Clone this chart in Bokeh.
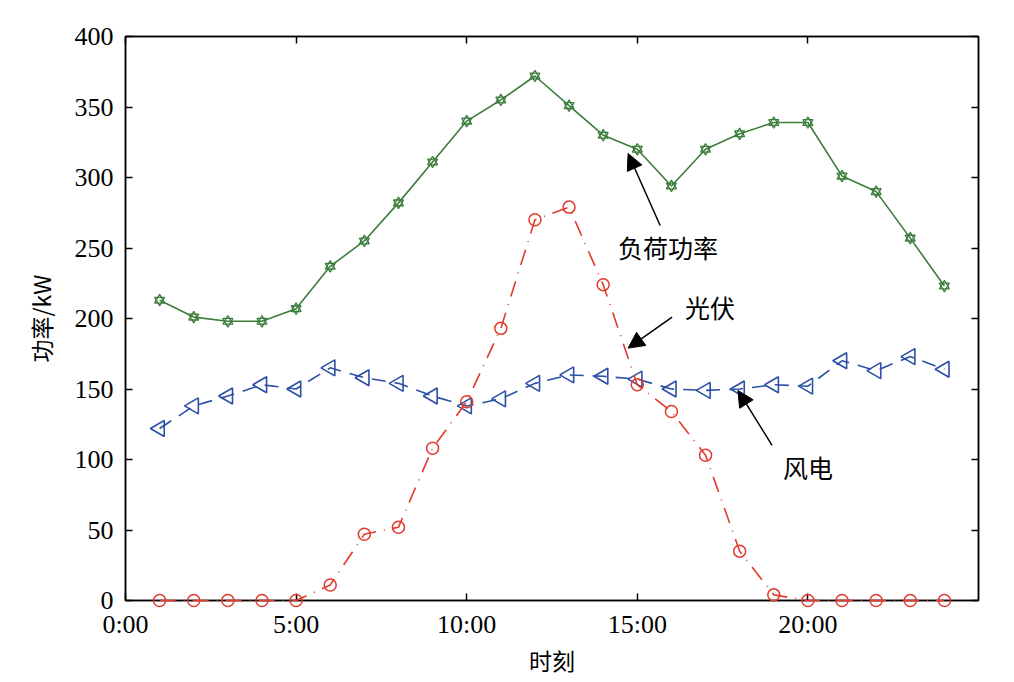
import numpy as np
from bokeh.plotting import figure
from bokeh.models import (LinearAxis, FixedTicker, Range1d, Arrow, NormalHead, Label)
from bokeh.embed import file_html
from bokeh.resources import INLINE

hours = list(range(1, 25))
load = [213, 201, 198, 198, 207, 237, 255, 282, 311, 340, 355, 372,
        351, 330, 320, 294, 320, 331, 339, 339, 301, 290, 257, 223]
wind = [122, 138, 145, 153, 150, 165, 158, 154, 145, 138, 143, 154,
        160, 159, 157, 150, 149, 150, 153, 152, 170, 163, 173, 164]
pv = [0, 0, 0, 0, 0, 11, 47, 52, 108, 141, 193, 270,
      279, 224, 153, 134, 103, 35, 4, 0, 0, 0, 0, 0]

x_ticks = [0, 5, 10, 15, 20]
x_tick_labels = ["0:00", "5:00", "10:00", "15:00", "20:00"]
y_ticks = [0, 50, 100, 150, 200, 250, 300, 350, 400]

# annotation anchors (data units)
ann_load = dict(text="负荷功率", head=(14.73, 317), tail=(15.67, 266), pos=(15.9, 251))
ann_pv = dict(text="光伏", head=(14.73, 179), tail=(16.02, 201), pos=(17.13, 208))
ann_wind = dict(text="风电", head=(17.95, 149), tail=(18.95, 110), pos=(20.0, 95))

SERIF = "Liberation Serif"
CJK = "Noto Sans CJK SC"
GREEN = "#3b7d3b"
BLUE = "#2b50a5"
RED = "#e23a2c"

p = figure(width=1000, height=680, output_backend="svg", toolbar_location=None,
           x_range=Range1d(0, 25), y_range=Range1d(0, 400),
           min_border_left=125, min_border_right=22, min_border_top=36,
           min_border_bottom=80)
p.xgrid.visible = False
p.ygrid.visible = False
p.outline_line_color = "black"
p.outline_line_width = 1.5
p.background_fill_color = "white"
p.border_fill_color = "white"


def style_axis(ax, ticks, show_labels, overrides=None):
    ax.ticker = FixedTicker(ticks=ticks)
    ax.major_tick_in = 7
    ax.major_tick_out = 0
    ax.minor_tick_in = 0
    ax.minor_tick_out = 0
    ax.axis_line_color = "black"
    ax.axis_line_width = 1.5
    ax.major_tick_line_width = 1.5
    ax.major_tick_line_color = "black"
    if show_labels:
        if overrides:
            ax.major_label_overrides = overrides
        ax.major_label_text_font = SERIF
        ax.major_label_text_font_size = "26px"
        ax.major_label_text_color = "black"
        ax.major_label_standoff = 12
    else:
        ax.major_label_overrides = {t: "" for t in ticks}
        ax.major_label_standoff = 0


style_axis(p.xaxis[0], x_ticks, True, {t: l for t, l in zip(x_ticks, x_tick_labels)})
style_axis(p.yaxis[0], y_ticks, True)
p.xaxis[0].major_label_standoff = 9
p.xaxis[0].axis_label = "时刻"
p.yaxis[0].axis_label = "功率/kW"
for ax in (p.xaxis[0], p.yaxis[0]):
    ax.axis_label_text_font = CJK
    ax.axis_label_text_font_size = "23px"
    ax.axis_label_text_font_style = "normal"
    ax.axis_label_text_color = "black"
p.xaxis[0].axis_label_standoff = 1
p.yaxis[0].axis_label_standoff = 14

top = LinearAxis()
style_axis(top, x_ticks, False)
p.add_layout(top, "above")
right = LinearAxis()
style_axis(right, y_ticks, False)
p.add_layout(right, "right")

# load
p.line(hours, load, line_color=GREEN, line_width=1.6)
p.scatter(hours, load, marker="triangle", size=10, line_color=GREEN, fill_color=None, line_width=1.3)
p.scatter(hours, load, marker="inverted_triangle", size=10, line_color=GREEN, fill_color=None, line_width=1.3)

# wind
p.line(hours, wind, line_color=BLUE, line_width=1.6, line_dash="14 9")
p.scatter(hours, wind, marker="triangle", size=16, angle=np.pi / 2, line_color=BLUE,
          fill_color=None, line_width=1.6)

# pv
p.line(hours, pv, line_color=RED, line_width=1.6, line_dash="16 8 1 8", level="overlay")
p.scatter(hours, pv, marker="circle", size=12, line_color=RED, fill_color=None, line_width=1.5,
          level="overlay")

for a in (ann_load, ann_pv, ann_wind):
    p.add_layout(Arrow(end=NormalHead(size=16, fill_color="black", line_color="black"),
                       x_start=a["tail"][0], y_start=a["tail"][1],
                       x_end=a["head"][0], y_end=a["head"][1],
                       line_color="black", line_width=1.5))
    p.add_layout(Label(x=a["pos"][0], y=a["pos"][1], text=a["text"],
                       text_font=CJK, text_font_size="25px", text_color="black",
                       text_align="center", text_baseline="middle"))

open("out.html", "w").write(file_html(p, INLINE))
